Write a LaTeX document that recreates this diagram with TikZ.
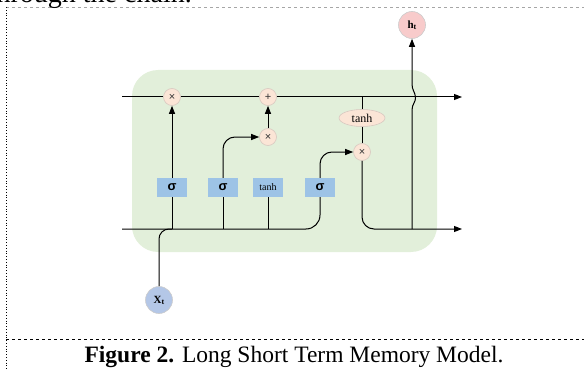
\documentclass[tikz,border=0pt]{standalone}
\usepackage{fontspec}
\setmainfont{Liberation Serif}
\newfontfamily\sansf{Liberation Sans}
\usetikzlibrary{arrows.meta,shapes.geometric}
\definecolor{cellgreen}{HTML}{E2EFDA}
\definecolor{opfill}{HTML}{FBE5D6}
\definecolor{opdraw}{HTML}{D8C8C0}
\definecolor{gatefill}{HTML}{9DC3E6}
\definecolor{xfill}{HTML}{B4C7E7}
\definecolor{hfill}{HTML}{F8CBCB}
\tikzset{
  op/.style={circle, fill=opfill, draw=opdraw, line width=0.6pt, minimum size=17pt, inner sep=0pt, text=black!80, font=\sansf\fontsize{11}{11}\selectfont},
  gate/.style={rectangle, fill=gatefill, minimum width=30pt, minimum height=19pt, inner sep=0pt},
  sig/.style={gate, font=\sansf\bfseries\fontsize{13}{13}\selectfont},
  io/.style={circle, draw=black!20, line width=0.6pt, minimum size=27pt, inner sep=0pt, font=\bfseries\fontsize{11}{11}\selectfont},
  wire/.style={line width=1pt, black},
  arr/.style={wire, -{Triangle[length=8pt,width=6pt]}},
}
\begin{document}
\begin{tikzpicture}[x=1pt,y=-1pt]
\useasboundingbox (0,0) rectangle (584,369);
% frame lines
\draw[black!35, dashed, line width=0.8pt] (6,7) -- (584,7);
\draw[black, dotted, line width=0.8pt] (6,7) -- (6,369);
\draw[black, dashed, line width=0.7pt] (6,339) -- (584,339);
\node[anchor=base east, font=\fontsize{28}{28}\selectfont, inner sep=0pt] (prev) at (192,3) {through the chain.};
\node[anchor=base, font=\fontsize{23.5}{23.5}\selectfont, inner sep=0pt] (cap) at (294,362) {\textbf{Figure 2.} Long Short Term Memory Model.};
% cell
\fill[cellgreen, rounded corners=26pt] (132,70) rectangle (437,252);
% nodes
\node[sig] (s1) at (172,187.5) {σ};
\node[sig] (s2) at (223,187.5) {σ};
\node[gate, font=\fontsize{10}{10}\selectfont] (tb) at (268,187.5) {tanh};
\node[sig] (s4) at (320,187.5) {σ};
\node[op] (m1) at (172,97) {×};
\node[op] (p1) at (268,97) {+};
\node[op] (m2) at (268,137) {×};
\node[op] (m3) at (362,152) {×};
\node[ellipse, fill=opfill, draw=opdraw, line width=0.6pt, minimum width=46pt, minimum height=17pt, inner sep=0pt, font=\fontsize{12}{12}\selectfont] (th) at (362,118) {tanh};
\node[io, fill=xfill] (xt) at (159,300) {X\raisebox{-0.2ex}{\fontsize{8}{8}\selectfont t}};
\node[io, fill=hfill] (ht) at (412,25) {h\raisebox{-0.2ex}{\fontsize{8}{8}\selectfont t}};
\coordinate (cl) at (122,97);
\coordinate (cr) at (462,97);
\coordinate (bl) at (122,229);
\coordinate (br) at (462,229);
% cell state line
\draw[wire] (cl) -- (m1) -- (p1) -- (th.north |- cl);
\draw[arr] (th.north |- cl) -- (cr);
\draw[wire] (th.north |- cl) -- (th.north);
\draw[wire] (th.south) -- (m3.north);
% gates
\draw[arr] (s1.north) -- (m1.south);
\draw[arr] (m2.north) -- (p1.south);
\draw[arr, rounded corners=12pt] (s2.north) -- (s2.north |- m2) -- (m2.west);
\draw[arr, rounded corners=12pt] (s4.north) -- (s4.north |- m3) -- (m3.west);
% input line
\draw[wire, rounded corners=14pt] (bl) -- (s4.south |- bl) -- (s4.south);
\draw[wire] (s1.south) -- (s1.south |- bl);
\draw[wire] (s2.south) -- (s2.south |- bl);
\draw[wire] (tb.south) -- (tb.south |- bl);
\draw[wire, rounded corners=10pt] (xt.north) -- (xt.north |- bl) -- (s1.south |- bl);
% output
\draw[arr, rounded corners=12pt] (m3.south) -- (m3.south |- br) -- (br);
\coordinate (hb) at (412,229);
\draw[arr] (hb) -- (412,110) .. controls (412,104) and (416,102) .. (415.5,97) .. controls (415,92) and (412,90) .. (412,84) -- (ht.south);
\end{tikzpicture}
\end{document}
